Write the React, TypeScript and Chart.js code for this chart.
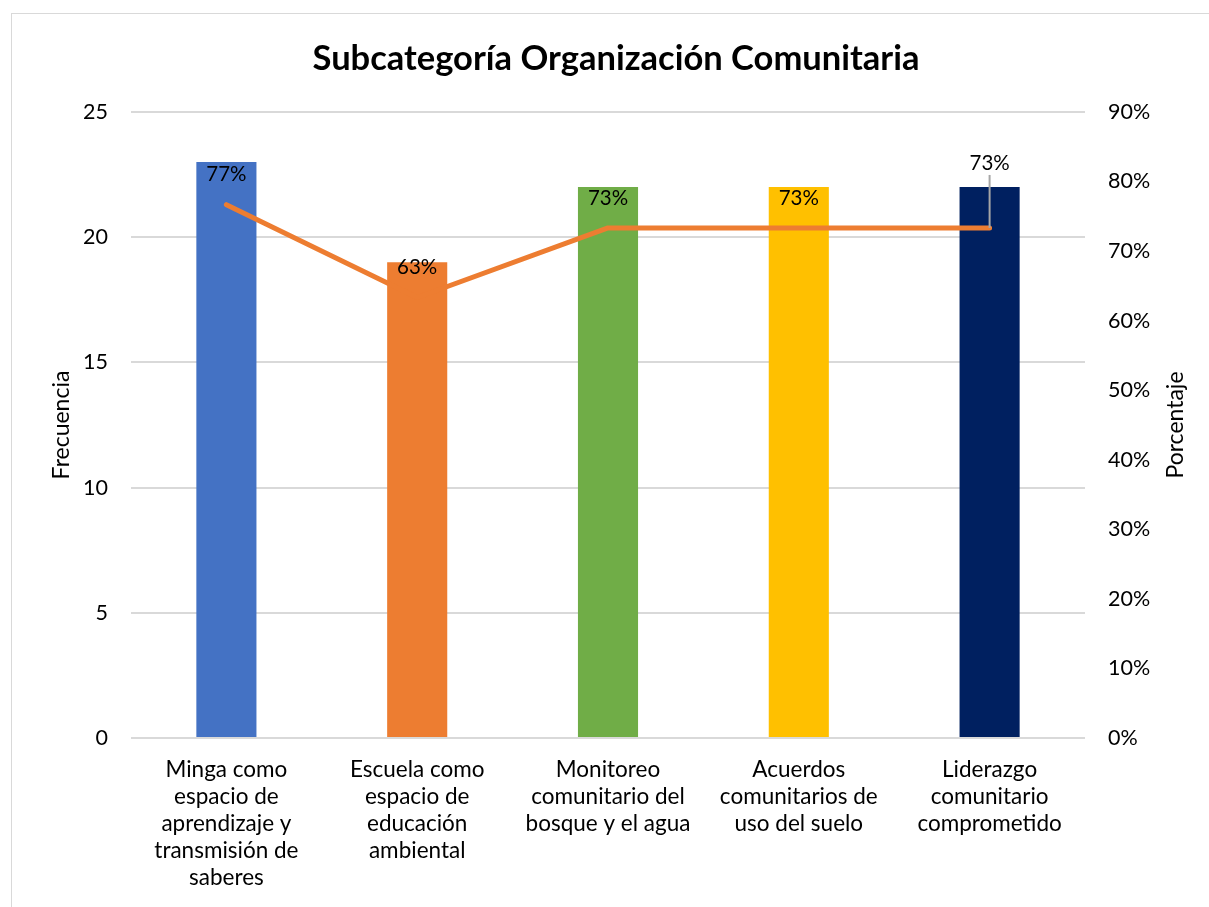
import React, { useEffect, useRef } from "react";
import { Chart, registerables } from "chart.js";

Chart.register(...registerables);

const FONT = "Lato, 'Open Sans', sans-serif";

const chartTitle = "Subcategoría Organización Comunitaria";
const leftAxisTitle = "Frecuencia";
const rightAxisTitle = "Porcentaje";

const categories: string[][] = [
  ["Minga como", "espacio de", "aprendizaje y", "transmisión de", "saberes"],
  ["Escuela como", "espacio de", "educación", "ambiental"],
  ["Monitoreo", "comunitario del", "bosque y el agua"],
  ["Acuerdos", "comunitarios de", "uso del suelo"],
  ["Liderazgo", "comunitario", "comprometido"],
];
const frequencies = [23, 19, 22, 22, 22];
const percentages = [76.67, 63.33, 73.33, 73.33, 73.33];
const percentLabels = ["77%", "63%", "73%", "73%", "73%"];
const barColors = ["#4472C4", "#ED7D31", "#70AD47", "#FFC000", "#002060"];
const lineColor = "#ED7D31";

const W = 1197;
const H = 893;

const textPlugin = {
  id: "customText",
  afterDraw(chart: any) {
    const ctx = chart.ctx as CanvasRenderingContext2D;
    ctx.save();
    // title
    ctx.fillStyle = "#000";
    ctx.font = `bold 34.5px ${FONT}`;
    ctx.textAlign = "center";
    ctx.textBaseline = "middle";
    ctx.fillText(chartTitle, 604, 45);
    // axis titles
    ctx.font = `23px ${FONT}`;
    const cy = (chart.chartArea.top + chart.chartArea.bottom) / 2;
    ctx.save();
    ctx.translate(50, cy);
    ctx.rotate(-Math.PI / 2);
    ctx.fillText(leftAxisTitle, 0, 0);
    ctx.restore();
    ctx.save();
    ctx.translate(1164, cy);
    ctx.rotate(-Math.PI / 2);
    ctx.fillText(rightAxisTitle, 0, 0);
    ctx.restore();
    // data labels
    ctx.font = `20.5px ${FONT}`;
    const meta = chart.getDatasetMeta(1);
    meta.data.forEach((pt: any, i: number) => {
      const last = i === meta.data.length - 1;
      const off = last ? 65 : 30;
      if (last) {
        ctx.strokeStyle = "#a6a6a6";
        ctx.lineWidth = 2;
        ctx.beginPath();
        ctx.moveTo(pt.x, pt.y - 53);
        ctx.lineTo(pt.x, pt.y);
        ctx.stroke();
      }
      ctx.fillStyle = "#000";
      ctx.fillText(percentLabels[i], pt.x, pt.y - off);
    });
    ctx.restore();
  },
};

export default function App() {
  const ref = useRef<HTMLCanvasElement>(null);
  useEffect(() => {
    if (!ref.current) return;
    const chart = new Chart(ref.current, {
      type: "bar",
      data: {
        labels: categories as any,
        datasets: [
          {
            type: "bar",
            label: "Frecuencia",
            data: frequencies,
            backgroundColor: barColors,
            yAxisID: "y",
            barPercentage: 0.315,
            categoryPercentage: 1,
            order: 2,
          } as any,
          {
            type: "line",
            label: "Porcentaje",
            data: percentages,
            borderColor: lineColor,
            backgroundColor: lineColor,
            borderWidth: 5,
            pointRadius: 0,
            borderCapStyle: "round",
            borderJoinStyle: "round",
            yAxisID: "y1",
            order: 1,
          } as any,
        ],
      },
      options: {
        responsive: false,
        animation: false,
        layout: { padding: { top: 98, left: 0, right: 0, bottom: 0 } },
        plugins: {
          legend: { display: false },
          tooltip: { enabled: false },
          title: { display: false },
        },
        scales: {
          x: {
            grid: { display: false, drawTicks: false },
            border: { display: false },
            ticks: {
              color: "#000",
              font: { family: FONT, size: 22.5, lineHeight: 1.2 },
              padding: 18.5,
              maxRotation: 0,
              autoSkip: false,
            },
            afterFit: (s: any) => {
              s.height = 169;
            },
          },
          y: {
            position: "left",
            min: 0,
            max: 25,
            ticks: {
              stepSize: 5,
              color: "#000",
              font: { family: FONT, size: 21.5 },
              padding: 23,
            },
            grid: { color: "#d9d9d9", lineWidth: 2, drawTicks: false },
            border: { display: false },
            afterFit: (s: any) => {
              s.width = 119;
            },
          },
          y1: {
            position: "right",
            min: 0,
            max: 90,
            ticks: {
              stepSize: 10,
              color: "#000",
              font: { family: FONT, size: 21.5 },
              padding: 23,
              callback: (v: any) => `${v}%`,
            },
            grid: { drawOnChartArea: false, drawTicks: false },
            border: { display: false },
            afterFit: (s: any) => {
              s.width = 124;
            },
          },
        },
      },
      plugins: [textPlugin],
    });
    return () => chart.destroy();
  }, []);

  return (
    <div
      style={{
        position: "absolute",
        left: 11,
        top: 13,
        width: W + 1,
        height: H + 1,
        borderTop: "1px solid #d9d9d9",
        borderLeft: "1px solid #d9d9d9",
        boxSizing: "border-box",
        background: "#fff",
        overflow: "hidden",
      }}
    >
      <canvas
        ref={ref}
        width={W}
        height={H}
        style={{ display: "block", width: W, height: H }}
      />
    </div>
  );
}
